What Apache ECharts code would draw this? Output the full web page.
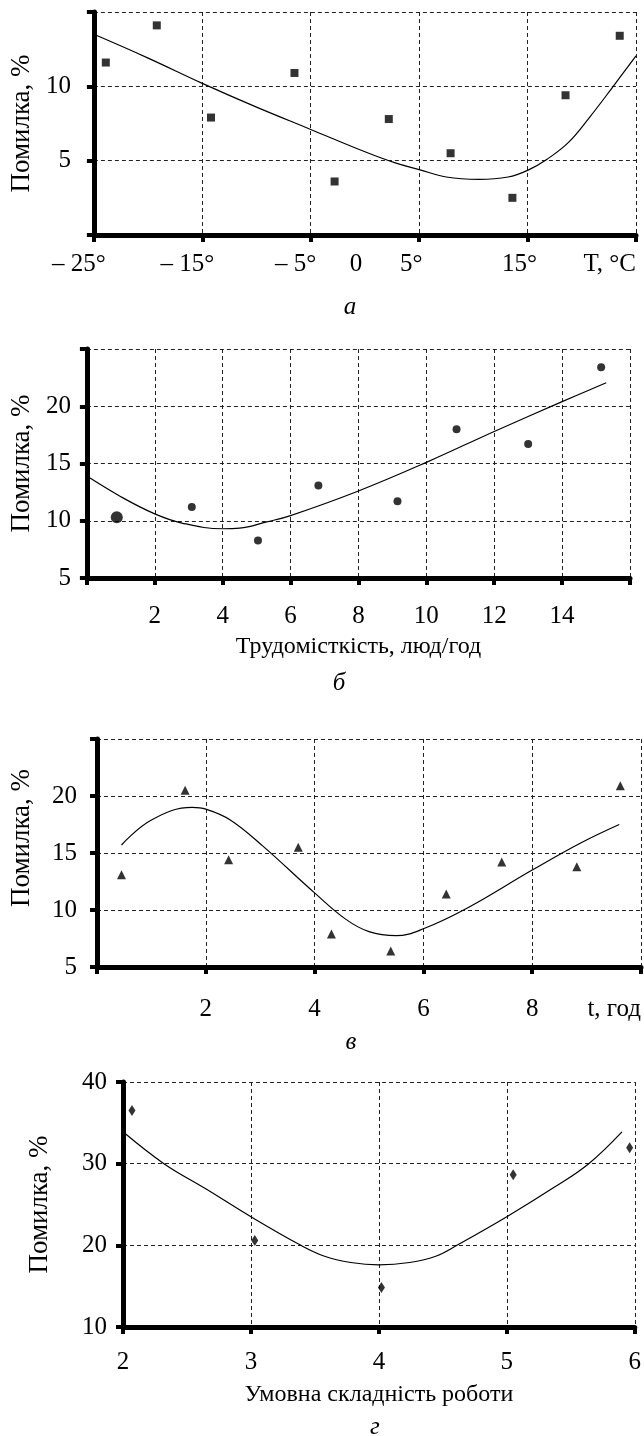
<!DOCTYPE html>
<html lang="uk">
<head>
<meta charset="UTF-8">
<title>Помилка</title>
<style>
  body { margin: 0; background: #fff; }
  #chart { width: 644px; height: 1436px; }
</style>
</head>
<body>
<div id="chart"></div>
<script src="https://cdn.jsdelivr.net/npm/echarts@6/dist/echarts.min.js"></script>
<script>
// а: температура
var tempX = [-23.9, -19.2, -14.2, -6.5, -2.8, 2.2, 7.9, 13.6, 18.5, 23.5];
var tempErr = [11.6, 14.1, 7.9, 10.9, 3.6, 7.8, 5.5, 2.5, 9.4, 13.4];
var tempFitX = [-25, -20, -15, -10, -5, 0, 2.8, 5, 7.5, 10.5, 13.2, 15, 16.8, 18.8, 20.7, 22.9, 25];
var tempFitY = [13.5, 11.9, 10.2, 8.6, 7.1, 5.6, 4.85, 4.4, 3.9, 3.74, 3.9, 4.35, 5.1, 6.25, 7.9, 10.0, 12.05];

// б: трудомісткість
var laborX = [0.88, 3.09, 5.04, 6.82, 9.15, 10.89, 13.0, 15.15];
var laborErr = [10.3, 11.2, 8.27, 13.08, 11.7, 18.0, 16.7, 23.4];
var laborFitX = [0, 1, 2, 2.8, 4, 4.5, 5.3, 6, 8, 10, 12, 14, 15.3];
var laborFitY = [13.9, 12.1, 10.6, 9.8, 9.3, 9.35, 9.9, 10.45, 12.6, 15.1, 17.8, 20.4, 22.05];

// в: час
var timeX = [0.45, 1.62, 2.42, 3.70, 4.31, 5.40, 6.42, 7.44, 8.82, 9.62];
var timeErr = [13.1, 20.5, 14.4, 15.5, 7.9, 6.4, 11.4, 14.2, 13.8, 20.9];
var timeFitX = [0.45, 1.0, 1.75, 2.0, 2.45, 3.05, 4.0, 4.57, 5.0, 5.5, 6.0, 6.8, 8.0, 8.9, 9.6];
var timeFitY = [15.7, 17.9, 19.0, 18.85, 17.9, 15.6, 11.5, 9.2, 8.1, 7.75, 8.35, 10.15, 13.5, 15.9, 17.5];

// г: умовна складність
var complexX = [2.07, 3.03, 4.02, 5.05, 5.96];
var complexErr = [36.5, 20.6, 14.85, 28.65, 31.95];
var complexFitX = [2, 2.32, 2.65, 3, 3.39, 3.57, 3.78, 4, 4.24, 4.45, 4.61, 5, 5.37, 5.64, 5.9];
var complexFitY = [33.9, 30, 26.9, 23.5, 20, 18.7, 17.9, 17.6, 17.9, 18.7, 20, 23.5, 27.1, 30, 33.9];

// підписи осей
var tempTicks = { '-25': '– 25°', '-15': '– 15°', '-5': '– 5°', '5': '5°', '15': '15°', '25': 'T, °C' };
var yName = 'Помилка, %';
var laborName = 'Трудомісткість, люд/год';
var timeLast = 't, год';
var complexName = 'Умовна складність роботи';
var captions = ['а', 'б', 'в', 'г'];

var FONT = 'Liberation Serif';
var LABEL_SIZE = 25;

function zip(xs, ys) {
    return xs.map(function (x, i) { return [x, ys[i]]; });
}

function axis(grid, min, max, interval, fmt, margin, extra) {
    var a = {
        type: 'value',
        gridIndex: grid,
        min: min,
        max: max,
        interval: interval,
        axisLine: { onZero: false, lineStyle: { color: '#000', width: 5 } },
        axisTick: { length: 7, lineStyle: { color: '#000', width: 4 } },
        splitLine: { lineStyle: { color: '#222', width: 1, type: [4, 3] } },
        axisLabel: {
            color: '#000', fontFamily: FONT, fontSize: LABEL_SIZE, margin: margin,
            formatter: fmt
        },
        nameTextStyle: { color: '#000', fontFamily: FONT, fontSize: 24 }
    };
    for (var k in extra) a[k] = extra[k];
    return a;
}

function hide(list) {
    return function (v) { return list.indexOf(v) >= 0 ? '' : String(v); };
}

var yNameStyle = { color: '#000', fontFamily: FONT, fontSize: 27 };

var myChart = echarts.init(document.getElementById('chart'));

var option = {
    animation: false,
    backgroundColor: '#fff',
    grid: [
        { left: 91, top: 12, width: 545, height: 223 },
        { left: 83, top: 349, width: 547, height: 229 },
        { left: 88, top: 739, width: 555, height: 228 },
        { left: 123, top: 1082, width: 515, height: 245 }
    ],
    xAxis: [
        axis(0, -25, 25, 10, function (v) {
            var t = tempTicks[String(v)] || '';
            if (v < 0) return '{n|' + t + '}';
            if (v < 25) return '{p|' + t + '}';
            return t;
        }, 17, {}),
        axis(1, 0, 16, 2, hide([0, 16]), 26, {
            name: laborName, nameLocation: 'middle', nameGap: 57
        }),
        axis(2, 0, 10, 2, function (v) {
            if (v === 0) return '';
            return v === 10 ? timeLast : String(v);
        }, 30, {}),
        axis(3, 2, 6, 1, hide([]), 23, {
            name: complexName, nameLocation: 'middle', nameGap: 56
        }),
        // окремий підпис «0» на осі температури
        {
            type: 'value', gridIndex: 0, position: 'bottom',
            min: -25, max: 25, interval: 25,
            axisLine: { show: false }, axisTick: { show: false }, splitLine: { show: false },
            axisLabel: {
                color: '#000', fontFamily: FONT, fontSize: LABEL_SIZE, margin: 17,
                formatter: function (v) { return v === 0 ? '{p|0}' : ''; },
                rich: { p: { fontFamily: FONT, fontSize: LABEL_SIZE, padding: [0, 18, 0, 0] } }
            }
        }
    ],
    yAxis: [
        axis(0, 0, 15, 5, hide([0, 15]), 23, {
            name: yName, nameLocation: 'middle', nameGap: 55, nameTextStyle: yNameStyle
        }),
        axis(1, 5, 25, 5, hide([25]), 16, {
            name: yName, nameLocation: 'middle', nameGap: 50, nameTextStyle: yNameStyle
        }),
        axis(2, 5, 25, 5, hide([25]), 20, {
            name: yName, nameLocation: 'middle', nameGap: 62,
            nameTextStyle: { color: '#000', fontFamily: FONT, fontSize: 27, padding: [0, 0, 0, 30] }
        }),
        axis(3, 10, 40, 10, hide([]), 16, {
            name: yName, nameLocation: 'middle', nameGap: 70, nameTextStyle: yNameStyle
        })
    ],
    series: [
        {
            type: 'line', xAxisIndex: 0, yAxisIndex: 0, smooth: 0.4, showSymbol: false,
            lineStyle: { color: '#000', width: 1.2 }, data: zip(tempFitX, tempFitY)
        },
        {
            type: 'scatter', xAxisIndex: 0, yAxisIndex: 0, symbol: 'rect', symbolSize: 8,
            itemStyle: { color: '#000' }, data: zip(tempX, tempErr)
        },
        {
            type: 'line', xAxisIndex: 1, yAxisIndex: 1, smooth: 0.4, showSymbol: false,
            lineStyle: { color: '#000', width: 1.2 }, data: zip(laborFitX, laborFitY)
        },
        {
            type: 'scatter', xAxisIndex: 1, yAxisIndex: 1, symbol: 'circle',
            symbolSize: function (val, p) { return p.dataIndex === 0 ? 12 : 8; },
            itemStyle: { color: '#000' }, data: zip(laborX, laborErr)
        },
        {
            type: 'line', xAxisIndex: 2, yAxisIndex: 2, smooth: 0.4, showSymbol: false,
            lineStyle: { color: '#000', width: 1.2 }, data: zip(timeFitX, timeFitY)
        },
        {
            type: 'scatter', xAxisIndex: 2, yAxisIndex: 2, symbol: 'triangle', symbolSize: 9,
            itemStyle: { color: '#000' }, data: zip(timeX, timeErr)
        },
        {
            type: 'line', xAxisIndex: 3, yAxisIndex: 3, smooth: 0.4, showSymbol: false,
            lineStyle: { color: '#000', width: 1.2 }, data: zip(complexFitX, complexFitY)
        },
        {
            type: 'scatter', xAxisIndex: 3, yAxisIndex: 3, symbol: 'diamond', symbolSize: [7, 11],
            itemStyle: { color: '#000' }, data: zip(complexX, complexErr)
        }
    ],
    graphic: [
        [350, 307], [339, 683], [351, 1042], [375, 1427]
    ].map(function (pos, i) {
        return {
            type: 'text', x: pos[0], y: pos[1],
            style: {
                text: captions[i], fill: '#000', align: 'center', verticalAlign: 'middle',
                font: 'italic 25px "Liberation Serif"'
            }
        };
    })
};

// зсув підписів з мінусом та градусом
option.xAxis[0].axisLabel.alignMaxLabel = 'right';
option.xAxis[0].axisLabel.rich = {
    n: { fontFamily: FONT, fontSize: LABEL_SIZE, padding: [0, 30, 0, 0] },
    p: { fontFamily: FONT, fontSize: LABEL_SIZE, padding: [0, 16, 0, 0] }
};
option.xAxis[2].axisLabel.alignMaxLabel = 'right';

myChart.setOption(option);
</script>
</body>
</html>
